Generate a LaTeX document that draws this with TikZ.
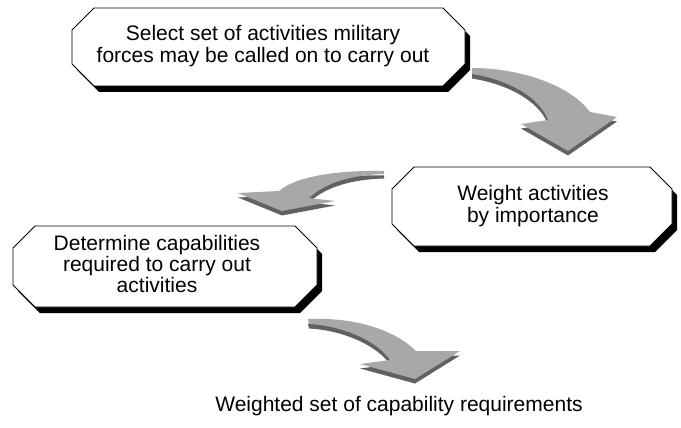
\documentclass[tikz,border=0pt]{standalone}
\usepackage{fontspec}
\setmainfont{Liberation Sans}
\tikzset{
  boxface/.style={draw=black, line width=0.9pt, fill=white, line join=miter},
  boxshadow/.style={fill=black},
  arrface/.style={fill=gray!68},
  arrside/.style={fill=black!62},
  lbl/.style={font=\fontsize{21}{22.5}\selectfont, align=center, inner sep=0pt}
}
\newcommand\octpath[5]{(#1,#2+#5) -- (#1+#5,#2) -- (#3-#5,#2) -- (#3,#2+#5) -- (#3,#4-#5) -- (#3-#5,#4) -- (#1+#5,#4) -- (#1,#4-#5) -- cycle}
\begin{document}
\begin{tikzpicture}[x=1pt,y=-1pt]
\useasboundingbox (0,0) rectangle (681,428);
% box 1
\fill[boxshadow, shift={(5,6)}] \octpath{72}{8}{465}{86}{22};
\draw[boxface] \octpath{72}{8}{465}{86}{22};
\node[lbl] (b1) at (263,46) {Select set of activities military\\forces may be called on to carry out};
% box 2
\fill[boxshadow, shift={(5,6)}] \octpath{392}{167}{672}{246}{22};
\draw[boxface] \octpath{392}{167}{672}{246}{22};
\node[lbl] (b2) at (533,206) {Weight activities\\by importance};
% box 3
\fill[boxshadow, shift={(5,6)}] \octpath{13}{226}{317}{307}{22};
\draw[boxface] \octpath{13}{226}{317}{307}{22};
\node[lbl, font=\fontsize{21}{21}\selectfont] (b3) at (157,264) {Determine capabilities\\required to carry out\\activities};
% output label
\node[lbl] (out) at (399,406) {Weighted set of capability requirements};
% arrow 1 (box 1 -> box 2)
\begin{scope}[shift={(0,4.5)}]
\fill[arrside] (472,68) .. controls (520,68) and (570,85) .. (590,112) -- (617,117) -- (568,151) -- (521,124) -- (548,120) .. controls (540,98) and (510,80) .. (472,74) -- cycle;
\end{scope}
\fill[arrface] (472,68) .. controls (520,68) and (570,85) .. (590,112) -- (617,117) -- (568,151) -- (521,124) -- (548,120) .. controls (540,98) and (510,80) .. (472,74) -- cycle;
% arrow 2 (box 2 -> box 3)
\begin{scope}[shift={(0,4.5)}]
\fill[arrside] (384,171) .. controls (335,170) and (295,177) .. (279,191) -- (238,193) -- (282,211) -- (335,201) -- (309,198) .. controls (325,183) and (350,175) .. (384,174) -- cycle;
\end{scope}
\fill[arrface] (384,171) .. controls (335,170) and (295,177) .. (279,191) -- (238,193) -- (282,211) -- (335,201) -- (309,198) .. controls (325,183) and (350,175) .. (384,174) -- cycle;
% arrow 3 (box 3 -> output)
\begin{scope}[shift={(0,4.5)}]
\fill[arrside] (308,319) .. controls (355,317) and (395,330) .. (416,351) -- (460,351) -- (415,379) -- (360,364) -- (390,360) .. controls (378,342) and (345,326) .. (309,324) -- cycle;
\end{scope}
\fill[arrface] (308,319) .. controls (355,317) and (395,330) .. (416,351) -- (460,351) -- (415,379) -- (360,364) -- (390,360) .. controls (378,342) and (345,326) .. (309,324) -- cycle;
\end{tikzpicture}
\end{document}
